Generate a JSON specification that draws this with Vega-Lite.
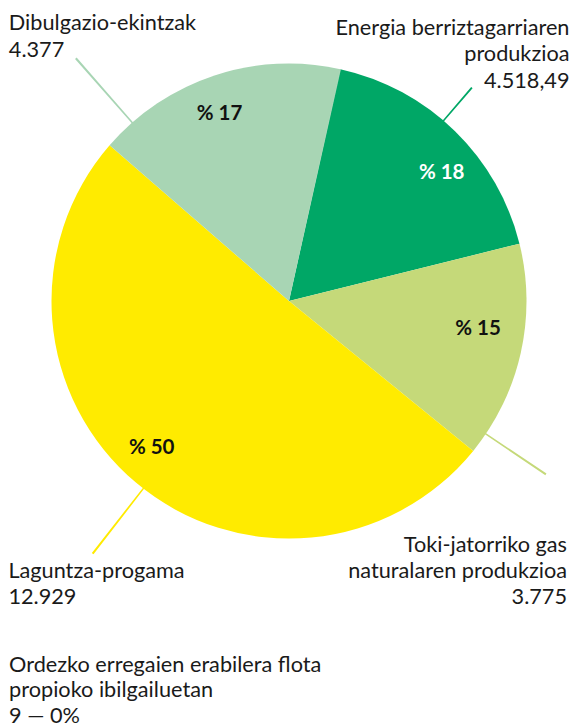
{
  "$schema": "https://vega.github.io/schema/vega-lite/v6.json",
  "autosize": {"type": "none"},
  "width": 564,
  "height": 602,
  "padding": {"left": 7, "right": 0, "top": 0, "bottom": 123},
  "background": "white",
  "config": {"view": {"stroke": null}, "text": {"font": "Lato"}},
  "data": {"values": [
    {"name": "Energia berriztagarriaren produkzioa", "label": "Energia berriztagarriaren\nprodukzioa\n4.518,49", "value": 4518.49, "pct": "% 18", "rank": 1},
    {"name": "Toki-jatorriko gas naturalaren produkzioa", "label": "Toki-jatorriko gas\nnaturalaren produkzioa\n3.775", "value": 3775, "pct": "% 15", "rank": 2},
    {"name": "Laguntza-progama", "label": "Laguntza-progama\n12.929", "value": 12929, "pct": "% 50", "rank": 3},
    {"name": "Dibulgazio-ekintzak", "label": "Dibulgazio-ekintzak\n4.377", "value": 4377, "pct": "% 17", "rank": 4},
    {"name": "Ordezko erregaien erabilera flota propioko ibilgailuetan", "label": "Ordezko erregaien erabilera flota\npropioko ibilgailuetan\n9 — 0%", "value": 9, "pct": "% 0", "rank": 5}
  ]},
  "transform": [
    {"stack": "value", "groupby": [], "sort": [{"field": "rank", "order": "ascending"}], "as": ["v0", "v1"]}
  ],
  "encoding": {
    "theta": {"field": "v0", "type": "quantitative", "scale": {"zero": true, "nice": false, "range": [0.21817, 6.50136]}},
    "color": {"field": "name", "type": "nominal", "legend": null,
      "scale": {"domain": ["Energia berriztagarriaren produkzioa", "Toki-jatorriko gas naturalaren produkzioa", "Laguntza-progama", "Dibulgazio-ekintzak", "Ordezko erregaien erabilera flota propioko ibilgailuetan"],
                "range": ["#00a766", "#c5d979", "#ffeb00", "#a8d5b4", "#a8d5b4"]}}
  },
  "layer": [
    {"mark": {"type": "arc", "radius": 237.5}, "encoding": {"theta2": {"field": "v1"}}},
    {"transform": [{"filter": "datum.rank === 4"}], "mark": {"type": "arc", "radius": 323, "radius2": 236, "thetaOffset": 0.13209, "theta2Offset": 0.13872}, "encoding": {"theta2": {"field": "v0"}}},
    {"transform": [{"filter": "datum.rank === 1"}], "mark": {"type": "arc", "radius": 281, "radius2": 236, "thetaOffset": 0.48712, "theta2Offset": 0.49375}, "encoding": {"theta2": {"field": "v0"}}},
    {"transform": [{"filter": "datum.rank === 2"}], "mark": {"type": "arc", "radius": 310, "radius2": 236, "thetaOffset": 0.8341, "theta2Offset": 0.84073}, "encoding": {"theta2": {"field": "v0"}}},
    {"transform": [{"filter": "datum.rank === 3"}], "mark": {"type": "arc", "radius": 320, "radius2": 236, "thetaOffset": 1.545, "theta2Offset": 1.55163}, "encoding": {"theta2": {"field": "v0"}}},
    {"transform": [{"filter": "datum.rank === 4"}], "mark": {"type": "text", "radius": 199, "dx": 80.8, "dy": -56.7, "fontSize": 20.5, "fontWeight": "bold", "align": "center", "baseline": "middle"}, "encoding": {"text": {"field": "pct"}, "color": {"value": "#111111"}}},
    {"transform": [{"filter": "datum.rank === 1"}], "mark": {"type": "text", "radius": 199, "dx": 109.6, "dy": 66.1, "fontSize": 20.5, "fontWeight": "bold", "align": "center", "baseline": "middle"}, "encoding": {"text": {"field": "pct"}, "color": {"value": "#ffffff"}}},
    {"transform": [{"filter": "datum.rank === 2"}], "mark": {"type": "text", "radius": 199, "dx": -4.1, "dy": 76.3, "fontSize": 20.5, "fontWeight": "bold", "align": "center", "baseline": "middle"}, "encoding": {"text": {"field": "pct"}, "color": {"value": "#111111"}}},
    {"transform": [{"filter": "datum.rank === 3"}], "mark": {"type": "text", "radius": 199, "dx": -291.7, "dy": 21.3, "fontSize": 20.5, "fontWeight": "bold", "align": "center", "baseline": "middle"}, "encoding": {"text": {"field": "pct"}, "color": {"value": "#111111"}}},
    {"transform": [{"filter": "datum.rank === 4"}], "mark": {"type": "text", "radius": 260, "dx": -83.8, "dy": -100.3, "fontSize": 21.7, "lineHeight": 26.3, "lineBreak": "\n", "align": "left", "baseline": "alphabetic"}, "encoding": {"text": {"field": "label"}, "color": {"value": "#1a1a1a"}}},
    {"transform": [{"filter": "datum.rank === 1"}], "mark": {"type": "text", "radius": 260, "dx": 224.2, "dy": -12.2, "fontSize": 21.7, "lineHeight": 26.3, "lineBreak": "\n", "align": "right", "baseline": "alphabetic"}, "encoding": {"text": {"field": "label"}, "color": {"value": "#1a1a1a"}}},
    {"transform": [{"filter": "datum.rank === 2"}], "mark": {"type": "text", "radius": 260, "dx": 25.7, "dy": 313.5, "fontSize": 21.7, "lineHeight": 26.3, "lineBreak": "\n", "align": "right", "baseline": "alphabetic"}, "encoding": {"text": {"field": "label"}, "color": {"value": "#1a1a1a"}}},
    {"transform": [{"filter": "datum.rank === 3"}], "mark": {"type": "text", "radius": 260, "dx": -482.3, "dy": 112.7, "fontSize": 21.7, "lineHeight": 26.3, "lineBreak": "\n", "align": "left", "baseline": "alphabetic"}, "encoding": {"text": {"field": "label"}, "color": {"value": "#1a1a1a"}}},
    {"transform": [{"filter": "datum.rank === 5"}], "mark": {"type": "text", "radius": 260, "dx": -336.2, "dy": 624.7, "fontSize": 21.7, "lineHeight": 25.5, "lineBreak": "\n", "align": "left", "baseline": "alphabetic"}, "encoding": {"text": {"field": "label"}, "color": {"value": "#1a1a1a"}}}
  ]
}
